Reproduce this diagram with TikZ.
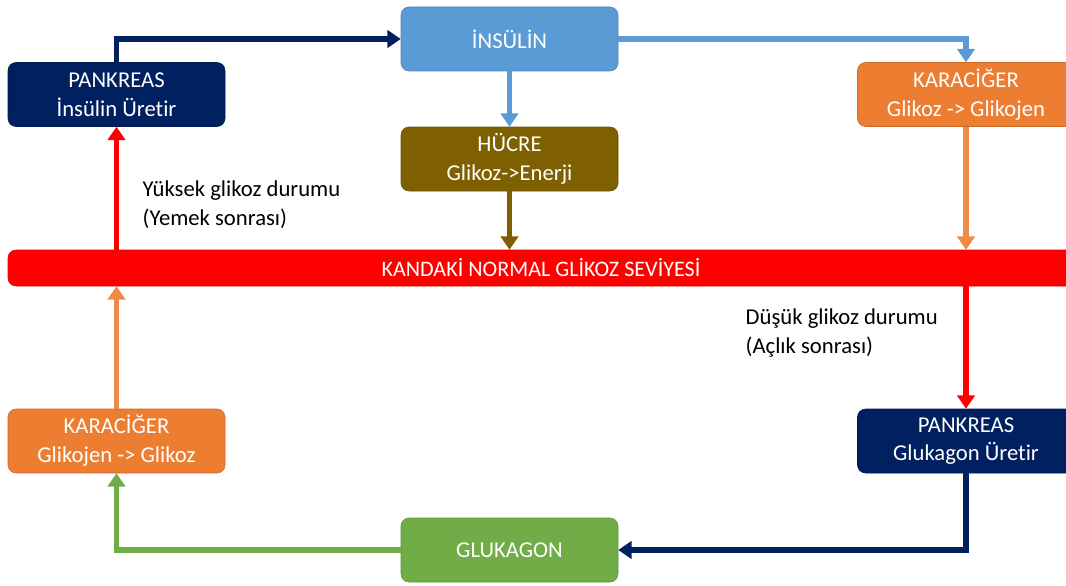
\documentclass[tikz,border=0pt]{standalone}
\usepackage{fontspec}
\setmainfont{Carlito}[Ligatures=NoCommon]
\usetikzlibrary{arrows.meta,positioning,calc}
\definecolor{Navy}{HTML}{002060}
\definecolor{Sky}{HTML}{5B9BD5}
\definecolor{Bark}{HTML}{7F6000}
\definecolor{Carrot}{HTML}{ED7D31}
\definecolor{Leaf}{HTML}{70AD47}
\definecolor{Alarm}{HTML}{FF0000}

\begin{document}
\begin{tikzpicture}[x=0.75pt, y=-0.75pt,
    box/.style={rounded corners=6pt, minimum width=162.75pt, minimum height=48pt,
      align=center, text=white, font=\fontsize{17}{21.5}\selectfont, inner sep=2pt},
    flow/.style={line width=3.8pt, -{Triangle[length=10pt,width=13pt]}},
    note/.style={align=left, anchor=north west, font=\fontsize{17}{22}\selectfont}]
    \clip (0,0) rectangle (1066,585);
    \fill[white] (0,0) rectangle (1066,585);
    \node[box, fill=Navy, draw=Navy!80!black] (pankL) at (116.5,94.5) {PANKREAS\\İnsülin Üretir};
    \node[box, fill=Sky, draw=Sky!85!black] (insulin) at (509.5,39) {İNSÜLİN};
    \node[box, fill=Bark, draw=Bark!85!black] (hucre) at (509.5,159) {HÜCRE\\Glikoz->Enerji};
    \node[box, fill=Carrot, draw=Carrot!85!black] (karR) at (966,94.5) {KARACİĞER\\Glikoz -> Glikojen};
    \node[box, fill=Alarm, draw=Alarm!85!black, minimum width=799.5pt, minimum height=27pt,
      font=\fontsize{16.6}{18}\selectfont] (bar) at (541,268) {KANDAKİ NORMAL GLİKOZ SEVİYESİ};
    \node[box, fill=Carrot, draw=Carrot!85!black] (karL) at (116.5,441) {KARACİĞER\\Glikojen -> Glikoz};
    \node[box, fill=Navy, draw=Navy!80!black] (pankR) at (966,441) {PANKREAS\\Glukagon Üretir};
    \node[box, fill=Leaf, draw=Leaf!85!black] (glukagon) at (509.5,550) {GLUKAGON};
    \node[note] (high) at (138,176) {Yüksek glikoz durumu\\(Yemek sonrası)};
    \node[note] (low) at (741,304) {Düşük glikoz durumu\\(Açlık sonrası)};
    \draw[flow, Navy] (pankL.north) |- (insulin.west);
    \draw[flow, Sky] (insulin.east) -| (karR.north);
    \draw[flow, Sky] (insulin.south) -- (hucre.north);
    \draw[flow, Bark] (hucre.south) -- (hucre.south |- bar.north);
    \draw[flow, Carrot!90!white] (karR.south) -- (karR.south |- bar.north);
    \draw[flow, Alarm] (pankL.south |- bar.north) -- (pankL.south);
    \draw[flow, Alarm] (pankR.north |- bar.south) -- (pankR.north);
    \draw[flow, Navy] (pankR.south) |- (glukagon.east);
    \draw[flow, Leaf] (glukagon.west) -| (karL.south);
    \draw[flow, Carrot!90!white] (karL.north) -- (karL.north |- bar.south);
  \end{tikzpicture}
\end{document}
